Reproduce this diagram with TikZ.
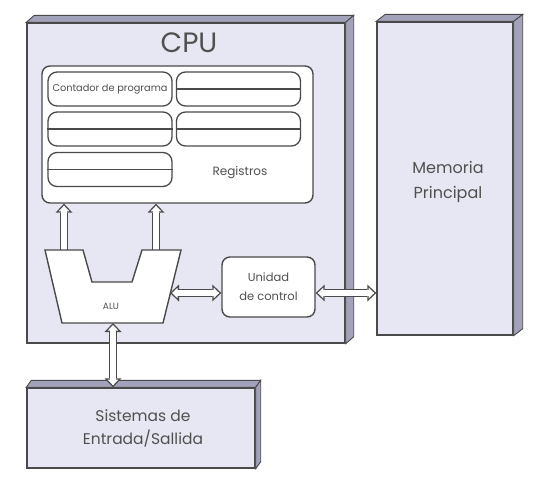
\documentclass[tikz,border=0pt]{standalone}
\usepackage{fontspec}
\setmainfont{Poppins}
\usepackage{xcolor}
\usetikzlibrary{arrows.meta,positioning}

\definecolor{boxfill}{HTML}{E7E7F3}
\definecolor{sidefill}{HTML}{A2A2BA}
\definecolor{edge}{HTML}{4A4A4A}
\definecolor{txt}{HTML}{505050}

\begin{document}
\begin{tikzpicture}[x=1pt,y=-1pt,
    font=\color{txt},
    slab/.style={draw=edge, fill=boxfill, line width=1.4pt, inner sep=0pt},
    face/.style={draw=edge, fill=sidefill, line width=0.9pt},
    regbox/.style={draw=edge, fill=white, rounded corners=9pt, line width=1.3pt,
        minimum width=124pt, minimum height=34pt, inner sep=0pt},
    busout/.style={draw=edge, line width=8.4pt,
        >={Triangle[length=9pt,width=17pt,line width=0pt]}},
    busin/.style={draw=white, line width=5.6pt, shorten >=2pt, shorten <=2pt,
        >={Triangle[length=5.6pt,width=10.6pt,line width=0pt]}},
    busfill/.style={draw=white, line width=5.6pt, shorten >=6.5pt, shorten <=6.5pt}
  ]
  \useasboundingbox (0,0) rectangle (544,480);

  % 箱(前面)
  \node[slab, minimum width=318pt, minimum height=320pt] (cpu) at (186,183) {};
  \node[slab, minimum width=136pt, minimum height=313pt] (mem) at (445,178.5) {};
  \node[slab, minimum width=228pt, minimum height=80pt] (io) at (141,428) {};

  % 立体の面
  \foreach \b/\d in {cpu/8, mem/9, io/5}{
    \filldraw[face] (\b.north west) -- ++(\d,-7) -- ([shift={(\d,-7)}]\b.north east)
      -- (\b.north east) -- cycle;
    \filldraw[face] (\b.north east) -- ++(\d,-7) -- ([shift={(\d,-7)}]\b.south east)
      -- (\b.south east) -- cycle;
  }

  % 文字
  \node[font=\fontsize{28}{30}\selectfont\color{txt}] (cpulabel) at (189,43) {CPU};
  \node[font=\fontsize{16}{25}\selectfont\color{txt}, align=center] (memlabel) at (448,182) {Memoria\\Principal};
  \node[font=\fontsize{15.5}{23}\selectfont\color{txt}, align=center] (iolabel) at (143,428) {Sistemas de\\Entrada/Sallida};

  % レジスタ
  \node[draw=edge, fill=white, rounded corners=8pt, line width=1.4pt,
    minimum width=271pt, minimum height=137pt] (reg) at (177.5,134.5) {};
  \node[regbox] (r11) at (110,89) {};
  \node[regbox] (r12) at (238.5,89) {};
  \node[regbox] (r21) at (110,129) {};
  \node[regbox] (r22) at (238.5,129) {};
  \node[regbox] (r31) at (110,169.5) {};
  \node[font=\fontsize{9.8}{11}\selectfont\color{txt}] (pc) at (r11) {Contador de programa};
  \foreach \r in {r12,r21,r22,r31}
    \draw[edge, line width=1.3pt] (\r.west) -- (\r.east);
  \node[font=\fontsize{12}{14}\selectfont\color{txt}] (reglabel) at (240,173) {Registros};

  % 制御装置
  \node[draw=edge, fill=white, rounded corners=8pt, line width=1.4pt,
    minimum width=93pt, minimum height=60pt, align=center,
    font=\fontsize{11.5}{19}\selectfont\color{txt}] (uc) at (268.5,287) {Unidad\\de control};

  % 接続点
  \coordinate (alu-nl) at (64,264);
  \coordinate (alu-nr) at (156,264);
  \coordinate (alu-e) at (170,293);
  \coordinate (alu-s) at (113,323);
  \coordinate (reg-l) at (alu-nl |- reg.south);
  \coordinate (reg-r) at (alu-nr |- reg.south);
  \coordinate (uc-w) at (uc.west |- alu-e);
  \coordinate (uc-e) at (uc.east |- alu-e);
  \coordinate (mem-w) at (mem.west |- alu-e);
  \coordinate (io-n) at (alu-s |- io.north);

  % バス(白抜きの矢印)
  \foreach \p/\q/\tip in {alu-nl/reg-l/->, alu-nr/reg-r/->, alu-e/uc-w/<->,
      uc-e/mem-w/<->, alu-s/io-n/<->}{
    \draw[busout, \tip] (\p) -- (\q);
    \draw[busin, \tip] (\p) -- (\q);
    \draw[busfill] (\p) -- (\q);
  }

  % ALU
  \filldraw[draw=edge, fill=white, line width=1.4pt]
    (45,250) -- (83,250) -- (92,282) -- (132,282) -- (142,250) -- (181,250)
    -- (163,323) -- (62,323) -- cycle;
  \node[font=\fontsize{9}{10}\selectfont\color{txt}] (alu) at (111,306) {ALU};
\end{tikzpicture}
\end{document}
